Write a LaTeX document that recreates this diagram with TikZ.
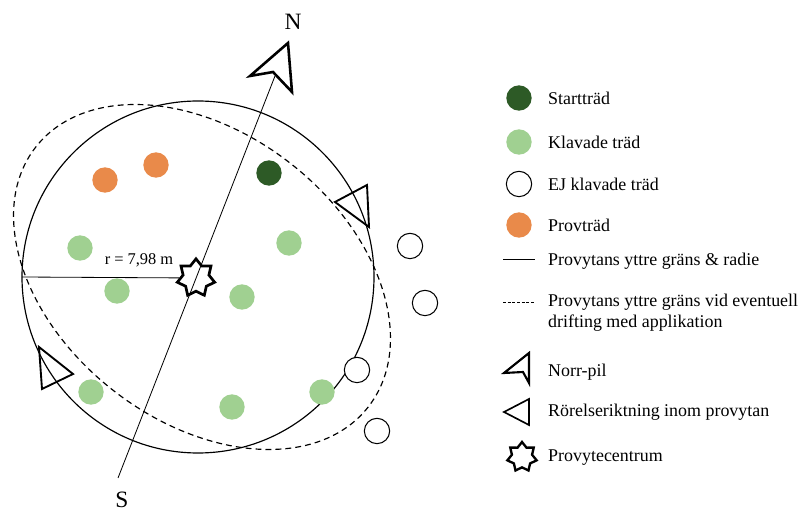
\documentclass[tikz,border=0pt]{standalone}
\usepackage{fontspec}
\setmainfont{Liberation Serif}
\usetikzlibrary{positioning, shapes.geometric}

\definecolor{startgreen}{RGB}{45,90,38}
\definecolor{klavgreen}{RGB}{160,208,145}
\definecolor{provorange}{RGB}{233,138,74}

\tikzset{
  tree/.style      = {circle, minimum size=0.76cm, inner sep=0pt},
  starttrad/.style = {tree, fill=startgreen},
  klavad/.style    = {tree, fill=klavgreen},
  ejklavad/.style  = {tree, draw, line width=0.9pt, fill=white},
  provtrad/.style  = {tree, fill=provorange},
  centrum/.style   = {star, star points=7, star point ratio=1.45, draw, line width=2.3pt, inner sep=0pt},
  legtext/.style   = {anchor=west, inner sep=0pt, align=left, font=\fontsize{15.3}{18}\selectfont},
  pil/.style       = {line width=2.2pt, line join=miter},
  riktning/.style  = {line width=1.6pt, line join=miter},
}

\begin{document}
\begin{tikzpicture}[x=0.03cm, y=-0.03cm]
\useasboundingbox (0,0) rectangle (798,516);

% provytan
\draw [line width=1pt] (198,277) circle [radius=176];
\draw [line width=1pt, dash pattern=on 5pt off 3.5pt, rotate around={-38:(202,277)}] (202,277) ellipse [x radius=211, y radius=144];

% norr-syd
\coordinate (syd)  at (118,478);
\coordinate (nord) at (275,76);
\draw [line width=0.7pt] (syd) -- (nord);
\node [font=\fontsize{20}{22}\selectfont] (n) at (293,22)  {N};
\node [font=\fontsize{20}{22}\selectfont] (s) at (122,500) {S};
\draw [pil] (288,43) -- (250,76) -- (273,72) -- (292,92) -- cycle;

% rorelseriktning
\draw [riktning] (335,202) -- (367,185) -- (369,227) -- cycle;
\draw [riktning] (39,347) -- (73,374) -- (42,389) -- cycle;

% centrum och radie
\node [centrum, minimum size=1.15cm] (mitt) at (196,278) {};
\coordinate (kant) at (22,277);
\draw [line width=0.7pt] (kant) -- (mitt);
\node [font=\fontsize{14}{16}\selectfont, anchor=south] (radie) at (139,271) {r = 7,98 m};

% trad
\node [starttrad] (t1)  at (269,173) {};
\node [provtrad ] (p1)  at (105,180) {};
\node [provtrad ] (p2)  at (156,165) {};
\node [klavad   ] (k1)  at (80,248)  {};
\node [klavad   ] (k2)  at (289,243) {};
\node [klavad   ] (k3)  at (117,291) {};
\node [klavad   ] (k4)  at (242,297) {};
\node [klavad   ] (k5)  at (91,392)  {};
\node [klavad   ] (k6)  at (232,407) {};
\node [klavad   ] (k7)  at (322,392) {};
\node [ejklavad ] (e1)  at (410,246) {};
\node [ejklavad ] (e2)  at (425,303) {};
\node [ejklavad ] (e3)  at (357,370) {};
\node [ejklavad ] (e4)  at (377,431) {};

% legend
\node [starttrad] (l1) at (519,98)  {};
\node [klavad   ] (l2) at (519,142) {};
\node [ejklavad ] (l3) at (519,184) {};
\node [provtrad ] (l4) at (519,225) {};
\coordinate (l5a) at (503,259);
\coordinate (l5b) at (535,259);
\draw [line width=0.7pt] (l5a) -- (l5b);
\coordinate (l6a) at (503,302);
\coordinate (l6b) at (535,302);
\draw [line width=0.7pt, dash pattern=on 2.5pt off 1.5pt] (l6a) -- (l6b);
\draw [pil, line width=1.8pt] (529,353) -- (504,373) -- (523,372) -- (529,383) -- cycle;
\draw [riktning, line width=1.4pt] (504,412) -- (529,399) -- (529,425) -- cycle;
\node [centrum, minimum size=0.9cm, line width=2pt] (l9) at (522,457) {};

\node [legtext] at (548,98)  {Startträd};
\node [legtext] at (548,142) {Klavade träd};
\node [legtext] at (548,184) {EJ klavade träd};
\node [legtext] at (548,225) {Provträd};
\node [legtext] at (548,261) {Provytans yttre gräns \& radie};
\node [legtext] at (548,313) {Provytans yttre gräns vid eventuell\\drifting med applikation};
\node [legtext] at (548,372) {Norr-pil};
\node [legtext] at (548,412) {Rörelseriktning inom provytan};
\node [legtext] at (548,458) {Provytecentrum};

\end{tikzpicture}
\end{document}
